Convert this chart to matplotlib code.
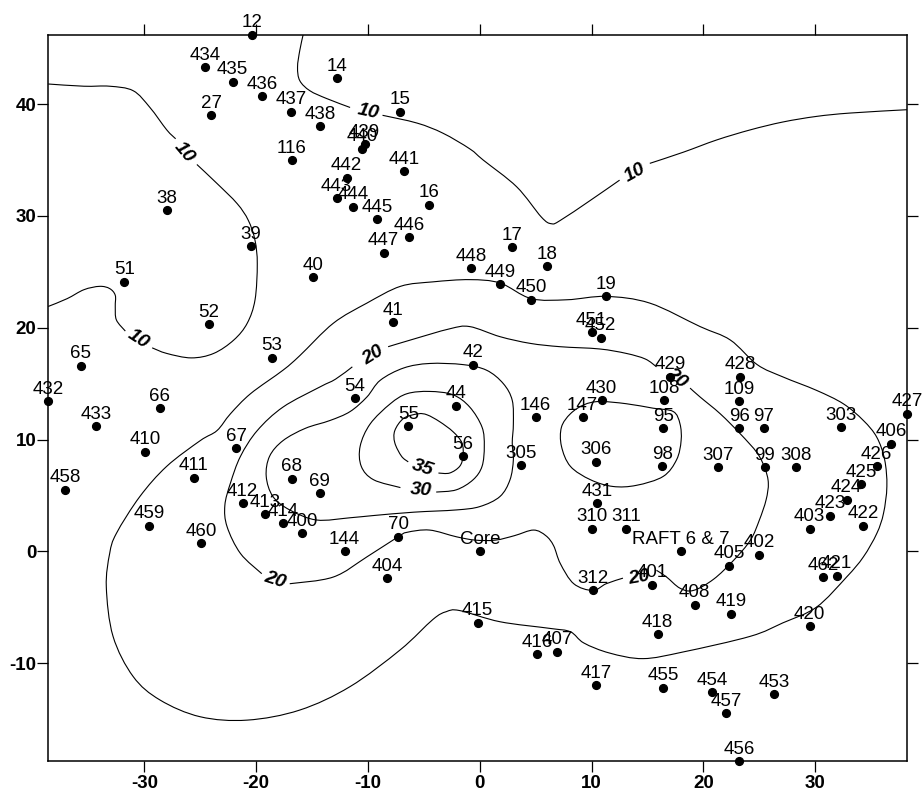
import numpy as np
import matplotlib
matplotlib.use("Agg")
import matplotlib.pyplot as plt
from matplotlib.path import Path
from matplotlib.patches import PathPatch

plt.rcParams['font.family'] = ['Liberation Sans', 'DejaVu Sans']

# ---------------- sample points ----------------
point_labels = ['12', '434', '435', '436', '27', '437', '438', '14', '15', '439', '440', '116',
                '441', '442', '443', '444', '445', '16', '446', '447', '38', '39', '40', '51',
                '17', '448', '18', '449', '450', '19', '52', '41', '451', '452', '53', '65',
                '42', '429', '428', '432', '54', '44', '430', '108', '109', '433', '66', '146',
                '147', '95', '96', '97', '303', '427', '406', '410', '67', '55', '56', '305',
                '306', '98', '307', '99', '308', '426', '458', '411', '68', '69', '425', '424',
                '412', '413', '414', '400', '431', '423', '422', '459', '403', '310', '311',
                '460', '144', '70', 'Core', 'RAFT 6 & 7', '402', '405', '404', '312', '401',
                '462', '421', '408', '419', '415', '420', '418', '416', '407', '417', '455',
                '454', '453', '457', '456']
point_x = [-20.4, -24.6, -22.1, -19.5, -24.0, -16.9, -14.3, -12.8, -7.1, -10.3, -10.5, -16.8,
           -6.8, -11.9, -12.8, -11.3, -9.2, -4.5, -6.3, -8.6, -28.0, -20.5, -14.9, -31.8,
           2.9, -0.8, 6.0, 1.8, 4.6, 11.3, -24.2, -7.8, 10.0, 10.8, -18.6, -35.7,
           -0.6, 17.0, 23.3, -38.6, -11.2, -2.1, 10.9, 16.5, 23.2, -34.3, -28.6, 5.0,
           9.2, 16.4, 23.2, 25.4, 32.3, 38.2, 36.8, -29.9, -21.8, -6.4, -1.5, 3.7,
           10.4, 16.3, 21.3, 25.5, 28.3, 35.5, -37.1, -25.6, -16.8, -14.3, 34.1, 32.8,
           -21.2, -19.2, -17.6, -15.9, 10.5, 31.3, 34.3, -29.6, 29.5, 10.0, 13.1,
           -24.9, -12.1, -7.3, 0.0, 18.0, 25.0, 22.3, -8.3, 10.1, 15.4,
           30.7, 31.9, 19.2, 22.5, -0.2, 29.5, 15.9, 5.1, 6.9, 10.4, 16.4,
           20.8, 26.3, 22.0, 23.2]
point_y = [46.2, 43.3, 42.0, 40.7, 39.0, 39.3, 38.0, 42.3, 39.3, 36.4, 36.0, 35.0,
           34.0, 33.4, 31.6, 30.8, 29.7, 31.0, 28.1, 26.7, 30.5, 27.3, 24.5, 24.1,
           27.2, 25.3, 25.5, 23.9, 22.5, 22.8, 20.3, 20.5, 19.6, 19.1, 17.3, 16.6,
           16.7, 15.6, 15.6, 13.4, 13.7, 13.0, 13.5, 13.5, 13.4, 11.2, 12.8, 12.0,
           12.0, 11.0, 11.0, 11.0, 11.1, 12.3, 9.6, 8.9, 9.2, 11.2, 8.5, 7.7,
           8.0, 7.6, 7.5, 7.5, 7.5, 7.6, 5.5, 6.6, 6.5, 5.2, 6.0, 4.6,
           4.3, 3.3, 2.5, 1.6, 4.3, 3.2, 2.3, 2.3, 2.0, 2.0, 2.0,
           0.7, 0.0, 1.3, 0.0, 0.0, -0.3, -1.3, -2.4, -3.5, -3.0,
           -2.3, -2.2, -4.8, -5.6, -6.4, -6.7, -7.4, -9.2, -9.0, -12.0, -12.2,
           -12.6, -12.8, -14.5, -18.8]

# ---------------- contour lines (traced vertices, data units) ----------------
# level 10, west lobe (three pieces, broken at labels)
c10w_1x = [-38.6, -35.4, -33.1, -31.0, -29.5, -28.0, -27.2]
c10w_1y = [41.8, 41.6, 41.6, 41.2, 39.7, 37.7, 36.9]
c10w_2x = [-25.3, -23.5, -21.7, -20.7, -20.1, -19.9, -20.1, -20.8, -22.0, -23.8, -25.8, -28.0, -29.3]
c10w_2y = [34.6, 32.9, 31.1, 29.6, 27.8, 25.7, 22.5, 20.4, 18.9, 17.7, 17.3, 17.7, 18.2]
c10w_3x = [-31.7, -32.5, -32.6, -32.6, -33.1, -34.0, -35.4, -36.9, -38.6]
c10w_3y = [19.7, 20.7, 21.9, 22.9, 23.5, 23.7, 23.4, 22.6, 21.9]
# level 10, north-east line
c10n_1x = [-15.8, -16.1, -16.3, -16.1, -15.2, -13.7, -11.6]
c10n_1y = [46.2, 44.8, 43.3, 42.1, 41.2, 40.5, 39.7]
c10n_2x = [-8.7, -5.6, -3.3, -0.9, 0.3, 3.3, 5.5, 6.4, 7.2, 9.9, 12.5]
c10n_2y = [39.0, 38.3, 37.4, 36.0, 35.0, 32.6, 29.9, 29.3, 29.6, 31.4, 33.2]
c10n_3x = [15.2, 18.2, 21.2, 24.2, 27.1, 30.1, 33.1, 38.2]
c10n_3y = [34.7, 35.7, 36.8, 37.7, 38.4, 38.9, 39.2, 39.5]

# outer unlabelled contour (closed)
c15_x = [-32.5, -30.4, -28.0, -25.0, -23.5, -22.3, -20.5, -17.6, -16.1, -13.1, -10.1, -7.1,
         -4.2, -0.9, 1.8, 4.6, 7.8, 11.3, 15.2, 19.7, 22.4, 24.8, 27.1, 30.1, 32.5, 34.3,
         35.5, 36.2, 36.4, 36.1, 35.5, 34.3, 32.8, 30.1, 27.1, 24.2, 18.2, 14.6, 11.6, 9.3,
         8.1, 6.3, 1.8, -1.8, -3.0, -4.2, -7.1, -11.6, -16.1, -20.8, -25.0, -28.6, -31.0,
         -32.8, -33.4, -33.1]
c15_y = [1.6, 4.9, 7.6, 9.9, 10.8, 12.3, 14.1, 16.2, 17.5, 20.4, 22.2, 23.7,
         24.1, 24.3, 24.0, 22.6, 22.5, 22.8, 22.2, 20.1, 18.9, 16.7, 15.6, 14.4, 13.2, 11.7,
         10.2, 8.2, 5.8, 3.4, 1.6, -0.5, -2.3, -5.0, -6.4, -7.6, -9.0, -9.6, -9.1, -8.2,
         -7.2, -6.9, -6.3, -5.3, -5.4, -6.1, -8.8, -12.1, -14.2, -15.1, -14.8, -13.3, -11.2,
         -7.6, -3.2, -0.2]

# level 20 (closed, four pieces broken at labels)
c20_1x = [-8.2, -6.2, -2.7, -0.9, 1.8, 4.5, 7.2, 10.7, 13.1, 14.8, 15.8]
c20_1y = [18.3, 18.9, 19.9, 20.1, 19.2, 18.6, 18.3, 18.1, 17.7, 17.2, 16.5]
c20_2x = [18.8, 19.7, 21.5, 23.3, 24.8, 25.5, 25.8, 25.6, 25.0, 24.2, 22.7, 20.9, 19.1, 17.9, 16.7, 15.8]
c20_2y = [14.6, 13.8, 12.3, 10.5, 8.8, 7.4, 6.1, 4.6, 2.8, 1.0, -0.8, -2.5, -3.5, -3.3, -2.3, -1.7]
c20_3x = [12.8, 11.3, 10.1, 8.4, 7.2, 6.6, 5.9, 4.8, 3.1, 1.4, -0.4, -2.1, -4.5, -6.5, -7.3,
          -10.1, -13.1, -17.0]
c20_3y = [-2.4, -2.9, -3.5, -2.9, -1.1, 0.5, 1.4, 1.9, 1.4, 1.0, 1.0, 1.3, 1.9, 1.7, 1.3,
          -0.5, -2.3, -2.9]
c20_4x = [-19.5, -21.4, -22.6, -22.8, -22.3, -21.4, -19.9, -17.6, -14.3, -12.9, -11.4]
c20_4y = [-2.0, -0.2, 2.2, 4.1, 6.1, 8.5, 10.8, 12.9, 14.7, 15.4, 16.5]

# unlabelled contour around the peak (closed)
c25a_x = [-13.4, -11.6, -10.1, -8.9, -6.8, -4.5, -1.5, 0.6, 2.1, 2.9, 3.0, 2.9, 3.0, 2.7, 1.8,
          0.0, -2.1, -5.9, -9.5, -11.6, -14.6, -17.0, -18.5, -19.1, -18.8, -17.6, -15.6]
c25a_y = [11.7, 12.5, 13.8, 15.3, 16.4, 16.8, 16.7, 16.2, 15.0, 13.5, 11.4, 9.7, 8.2, 6.4, 4.9,
          4.0, 3.7, 3.5, 3.2, 3.0, 2.8, 3.7, 4.9, 6.7, 8.5, 9.9, 11.0]
# unlabelled contour, east lobe (closed)
c25b_x = [10.7, 13.1, 15.5, 17.3, 17.9, 18.0, 17.6, 16.4, 14.0, 11.9, 9.9, 8.1, 7.3, 7.3, 8.1, 9.3]
c25b_y = [13.4, 13.2, 12.8, 12.5, 11.4, 9.9, 8.2, 6.7, 5.9, 5.8, 6.4, 7.6, 9.4, 11.1, 12.3, 13.1]

# level 30 (broken at label)
c30_x = [-3.9, -2.1, -0.6, 0.2, 0.4, 0.2, -0.9, -2.4, -4.5, -6.5, -8.0, -9.8, -10.7, -10.6, -9.5, -7.1]
c30_y = [5.3, 5.5, 6.4, 7.6, 9.4, 11.1, 12.9, 14.0, 14.3, 14.1, 13.2, 11.4, 9.4, 7.6, 6.4, 5.7]
# level 35 (broken at label)
c35_x = [-3.7, -2.7, -1.8, -1.5, -1.6, -2.4, -3.6, -4.7, -5.5, -6.8, -7.6, -7.6, -7.0, -6.4]
c35_y = [7.0, 7.0, 7.6, 8.5, 9.7, 10.7, 11.6, 12.2, 12.3, 11.9, 10.8, 9.7, 8.5, 8.0]

# contour labels
clabel_text = ['10', '10', '10', '10', '20', '20', '20', '20', '30', '35']
clabel_x = [-26.4, -30.5, -10.0, 13.9, -9.5, 17.6, 14.3, -18.3, -5.3, -5.1]
clabel_y = [35.7, 19.0, 39.3, 33.9, 17.5, 15.5, -2.4, -2.6, 5.5, 7.4]
clabel_rot = [-50, -33, -12, 29, 32, -38, 10, -18, -4, -18]

x_ticks = [-30, -20, -10, 0, 10, 20, 30]
x_tick_labels = ['-30', '-20', '-10', '0', '10', '20', '30']
y_ticks = [-10, 0, 10, 20, 30, 40]
y_tick_labels = ['-10', '0', '10', '20', '30', '40']


def smooth_path(xs, ys, closed=False):
    pts = np.column_stack([xs, ys]).astype(float)
    if closed:
        ext = np.vstack([pts[-1], pts, pts[0], pts[1]])
    else:
        ext = np.vstack([pts[0], pts, pts[-1]])
    verts = [ext[1]]
    codes = [Path.MOVETO]
    for i in range(1, len(ext) - 2):
        p0, p1, p2, p3 = ext[i - 1], ext[i], ext[i + 1], ext[i + 2]
        verts += [p1 + (p2 - p0) / 6.0, p2 - (p3 - p1) / 6.0, p2]
        codes += [Path.CURVE4] * 3
    return Path(verts, codes)


fig = plt.figure(figsize=(9.23, 7.92), dpi=100)
ax = fig.add_axes([0.0523, 0.0391, 0.9300, 0.9171])
ax.set_xlim(-38.59, 38.17)
ax.set_ylim(-18.76, 46.21)

open_lines = [(c10w_1x, c10w_1y), (c10w_2x, c10w_2y), (c10w_3x, c10w_3y),
              (c10n_1x, c10n_1y), (c10n_2x, c10n_2y), (c10n_3x, c10n_3y),
              (c20_1x, c20_1y), (c20_2x, c20_2y), (c20_3x, c20_3y), (c20_4x, c20_4y),
              (c30_x, c30_y), (c35_x, c35_y)]
closed_lines = [(c15_x, c15_y), (c25a_x, c25a_y), (c25b_x, c25b_y)]
for xs, ys in open_lines:
    ax.add_patch(PathPatch(smooth_path(xs, ys), fill=False, lw=0.8, ec='black', zorder=2))
for xs, ys in closed_lines:
    ax.add_patch(PathPatch(smooth_path(xs, ys, closed=True), fill=False, lw=0.8, ec='black', zorder=2))

for t, x, y, r in zip(clabel_text, clabel_x, clabel_y, clabel_rot):
    ax.text(x, y, t, fontsize=14, fontweight='bold', fontstyle='italic', rotation=r,
            rotation_mode='anchor', ha='center', va='center', zorder=4)

ax.plot(point_x, point_y, 'o', color='black', markersize=5.6, clip_on=False, zorder=3)
for lab, x, y in zip(point_labels, point_x, point_y):
    ax.annotate(lab, (x, y), xytext=(0, 5.4), textcoords='offset points', ha='center',
                va='baseline', fontsize=13.5, annotation_clip=False, zorder=5)

ax.set_xticks(x_ticks)
ax.set_xticklabels(x_tick_labels, fontweight='bold', fontsize=13.5)
ax.set_yticks(y_ticks)
ax.set_yticklabels(y_tick_labels, fontweight='bold', fontsize=13.5)
ax.tick_params(direction='out', length=7.9, width=0.9, top=True, right=True)
ax.tick_params(axis='x', pad=2.0)
ax.tick_params(axis='y', pad=0.5)
for s in ax.spines.values():
    s.set_linewidth(1.1)

fig.savefig('out.png', dpi=100)
